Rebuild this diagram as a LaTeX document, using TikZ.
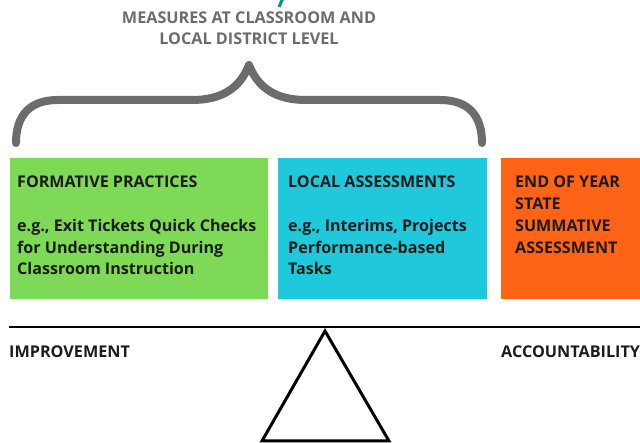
\documentclass[tikz,border=0pt]{standalone}
\usepackage{fontspec}
\setmainfont{Open Sans}
\usetikzlibrary{positioning}

\definecolor{bracegray}{RGB}{108,108,108}
\definecolor{formgreen}{RGB}{126,217,87}
\definecolor{localcyan}{RGB}{31,200,219}
\definecolor{stateorange}{RGB}{255,99,22}
\definecolor{inktext}{RGB}{28,28,28}
\definecolor{teal}{RGB}{0,150,140}

\begin{document}
\begin{tikzpicture} [x=1pt, y=-1pt,
    colbox/.style={anchor=north west, inner sep=0pt, minimum height=141pt},
    boxtext/.style={anchor=north west, inner sep=0pt, align=left, text=inktext, font=\bfseries\fontsize{16.1}{21.75}\selectfont},
    titletext/.style={inner sep=0pt, align=center, text=bracegray, font=\bfseries\fontsize{16.2}{21.5}\selectfont},
    sidetext/.style={anchor=west, inner sep=0pt, text=inktext, font=\bfseries\fontsize{16.2}{18}\selectfont},
    bracket/.style={bracegray, line width=8pt, line cap=round, line join=round}
  ]

\useasboundingbox (0,0) rectangle (640,443);
\clip (0,0) rectangle (640,443);

% cut-off stroke at the top
\draw[teal, line width=3pt] (283,-2) -- (279,7);

% brace over the first two columns
\coordinate (tip) at (249,65);
\draw[bracket] (16,143) .. controls (16,115) and (30,100) .. (58,100) -- (192,100)
  .. controls (222,100) and (240,88) .. (tip)
  .. controls (258,88) and (276,100) .. (306,100) -- (440,100)
  .. controls (468,100) and (482,115) .. (482,143);
\node[titletext, above=20pt of tip] (measures) {MEASURES AT CLASSROOM AND\\LOCAL DISTRICT LEVEL};

% columns
\node[colbox, fill=formgreen, minimum width=258pt] (formative) at (10,158) {};
\node[colbox, fill=localcyan, minimum width=209pt] (local) at (278,158) {};
\node[colbox, fill=stateorange, minimum width=150pt] (state) at (501,158) {};

\node[boxtext] (formtext) at ([shift={(7,18)}]formative.north west)
  {FORMATIVE PRACTICES\\[21.75pt]e.g., Exit Tickets Quick Checks\\for Understanding During\\Classroom Instruction};
\node[boxtext] (localtext) at ([shift={(10,18)}]local.north west)
  {LOCAL ASSESSMENTS\\[21.75pt]e.g., Interims, Projects\\Performance-based\\Tasks};
\node[boxtext] (statetext) at ([shift={(14,18)}]state.north west)
  {END OF YEAR\\STATE\\SUMMATIVE\\ASSESSMENT};

% balance
\draw[black, line width=2.2pt] (9,327) -- (640,327);
\draw[black, line width=3pt, line join=miter] (325,331) -- (262,441) -- (389,441) -- cycle;

\node[sidetext] (improve) at (9,352) {IMPROVEMENT};
\node[sidetext] (account) at (501,352) {ACCOUNTABILITY};

\end{tikzpicture}
\end{document}
